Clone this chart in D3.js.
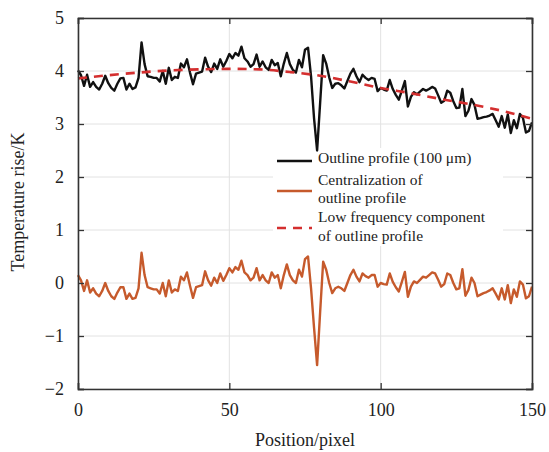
<!DOCTYPE html>
<html><head><meta charset="utf-8">
<script src="https://cdn.jsdelivr.net/npm/d3@7"></script>
<style>body{margin:0;background:#fff}svg{display:block}text{font-family:"Liberation Serif","Times New Roman",serif;fill:#222}</style>
</head><body><svg id="c" width="549" height="452"></svg>
<script>
const positions = d3.range(0, 151);
const outlineProfile = [4.01,3.92,3.72,3.93,3.70,3.79,3.70,3.65,3.76,3.91,3.77,3.68,3.63,3.76,3.86,3.87,3.65,3.76,3.66,3.69,3.87,4.54,4.13,3.90,3.89,3.87,3.87,3.80,4.00,3.76,4.06,3.83,3.89,3.87,4.14,4.07,4.22,3.97,3.75,3.95,3.97,3.99,4.25,4.08,3.98,4.14,4.04,4.22,4.08,4.19,4.32,4.24,4.34,4.29,4.46,4.24,4.18,4.08,4.13,4.31,4.08,4.18,4.07,4.02,4.21,4.11,4.15,3.90,4.14,4.34,4.13,4.02,3.97,4.21,4.07,4.40,4.44,3.90,3.10,2.50,3.40,4.30,4.14,3.88,3.68,3.76,3.77,3.73,3.67,3.81,3.95,4.04,3.90,3.79,3.93,3.87,3.83,3.87,3.85,3.62,3.68,3.65,3.63,3.83,3.66,3.55,3.46,3.63,3.81,3.33,3.51,3.60,3.56,3.61,3.66,3.63,3.66,3.70,3.67,3.54,3.40,3.44,3.63,3.59,3.43,3.30,3.31,3.66,3.15,3.25,3.47,3.36,3.10,3.11,3.13,3.14,3.16,3.19,3.07,2.95,3.15,2.93,3.18,2.83,3.07,2.92,3.19,3.12,2.84,2.87,3.03];
const centralized = [0.15,0.05,-0.15,0.05,-0.18,-0.10,-0.20,-0.25,-0.15,0.00,-0.15,-0.25,-0.30,-0.18,-0.08,-0.08,-0.30,-0.20,-0.30,-0.28,-0.10,0.57,0.15,-0.08,-0.10,-0.12,-0.12,-0.20,0.00,-0.25,0.05,-0.18,-0.12,-0.15,0.12,0.05,0.20,-0.05,-0.28,-0.08,-0.06,-0.04,0.22,0.05,-0.05,0.10,0.00,0.18,0.04,0.15,0.28,0.20,0.30,0.25,0.42,0.20,0.15,0.05,0.10,0.28,0.05,0.15,0.05,0.00,0.20,0.10,0.15,-0.10,0.15,0.35,0.15,0.05,0.00,0.25,0.12,0.45,0.50,-0.10,-0.85,-1.55,-0.55,0.40,0.25,0.00,-0.19,-0.10,-0.07,-0.10,-0.15,0.00,0.15,0.25,0.12,0.03,0.18,0.13,0.10,0.15,0.15,-0.07,0.00,-0.02,-0.03,0.18,0.02,-0.08,-0.16,0.02,0.21,-0.26,-0.07,0.03,0.00,0.06,0.12,0.10,0.15,0.20,0.18,0.06,-0.07,-0.02,0.18,0.15,0.00,-0.12,-0.10,0.26,-0.24,-0.13,0.10,0.00,-0.25,-0.22,-0.19,-0.17,-0.14,-0.10,-0.20,-0.31,-0.10,-0.31,-0.04,-0.38,-0.12,-0.26,0.03,-0.03,-0.29,-0.25,-0.07];
const lowFreqX = [0,10,20,30,40,50,60,70,80,90,100,110,120,130,140,150];
const lowFreqY = [3.86,3.92,3.97,4.01,4.03,4.04,4.03,3.98,3.91,3.80,3.68,3.58,3.47,3.37,3.25,3.10];
const xTicks = [0,50,100,150];
const yTicks = [-2,-1,0,1,2,3,4,5];
const legendLabels = [["Outline profile (100 μm)"],["Centralization of","outline profile"],["Low frequency component","of outline profile"]];

const svg = d3.select("#c");
const L=78, R=532, T=18, B=389;
const x = d3.scaleLinear().domain([0,150]).range([L,R]);
const y = d3.scaleLinear().domain([-2,5]).range([B,T]);

// grid
const g = svg.append("g");
g.selectAll(".gx").data(xTicks).join("line").attr("x1",d=>x(d)).attr("x2",d=>x(d)).attr("y1",T).attr("y2",B).attr("stroke","#e2e2e2").attr("stroke-width",1);
g.selectAll(".gy").data(yTicks).join("line").attr("x1",L).attr("x2",R).attr("y1",d=>y(d)).attr("y2",d=>y(d)).attr("stroke","#e2e2e2").attr("stroke-width",1);

const line = d3.line().x((d,i)=>x(positions[i])).y(d=>y(d));
// legend background
svg.append("rect").attr("x",273).attr("y",148).attr("width",230).attr("height",98).attr("fill","#fff");

svg.append("path").datum(centralized).attr("d",line).attr("fill","none").attr("stroke","#c65a2c").attr("stroke-width",2.4).attr("stroke-linejoin","round");
svg.append("path").datum(outlineProfile).attr("d",line).attr("fill","none").attr("stroke","#111").attr("stroke-width",2.4).attr("stroke-linejoin","round");
const lf = d3.line().x((d,i)=>x(lowFreqX[i])).y(d=>y(d)).curve(d3.curveMonotoneX);
svg.append("path").datum(lowFreqY).attr("d",lf).attr("fill","none").attr("stroke","#d42f2f").attr("stroke-width",2.6).attr("stroke-dasharray","9,7");

// axes
const ax = svg.append("g");
ax.append("g").attr("transform",`translate(0,${B})`).call(d3.axisBottom(x).tickValues(xTicks).tickSize(-6).tickPadding(14).tickFormat(d3.format("d")));
ax.append("g").attr("transform",`translate(0,${T})`).call(d3.axisTop(x).tickValues(xTicks).tickSize(-6).tickFormat(""));
ax.append("g").attr("transform",`translate(${L},0)`).call(d3.axisLeft(y).tickValues(yTicks).tickSize(-6).tickPadding(14).tickFormat(d=>d<0?"\u2212"+Math.abs(d):d));
ax.append("g").attr("transform",`translate(${R},0)`).call(d3.axisRight(y).tickValues(yTicks).tickSize(-6).tickFormat(""));
ax.selectAll(".domain").attr("stroke","#333").attr("stroke-width",1.6);
ax.selectAll(".tick line").attr("stroke","#333").attr("stroke-width",1.3);
ax.selectAll(".tick text").attr("font-size",18).attr("fill","#222").attr("font-family","Liberation Serif, serif");

// axis titles
svg.append("text").attr("x",305).attr("y",446).attr("text-anchor","middle").attr("font-size",18).text("Position/pixel");
svg.append("text").attr("transform","translate(24,202) rotate(-90)").attr("text-anchor","middle").attr("font-size",18).text("Temperature rise/K");

// legend
const lg = svg.append("g");
const lyLine = [161, 191, 228];
const lyText = [[163],[185,203],[222,241]];
const colors = ["#111","#c65a2c","#d42f2f"];
legendLabels.forEach((lab,i)=>{
  lg.append("line").attr("x1",277).attr("x2",312).attr("y1",lyLine[i]).attr("y2",lyLine[i]).attr("stroke",colors[i]).attr("stroke-width",2.6).attr("stroke-dasharray",i==2?"9,7":null);
  lab.forEach((t,j)=>lg.append("text").attr("x",318).attr("y",lyText[i][j]).attr("font-size",15.5).text(t));
});
</script></body></html>
